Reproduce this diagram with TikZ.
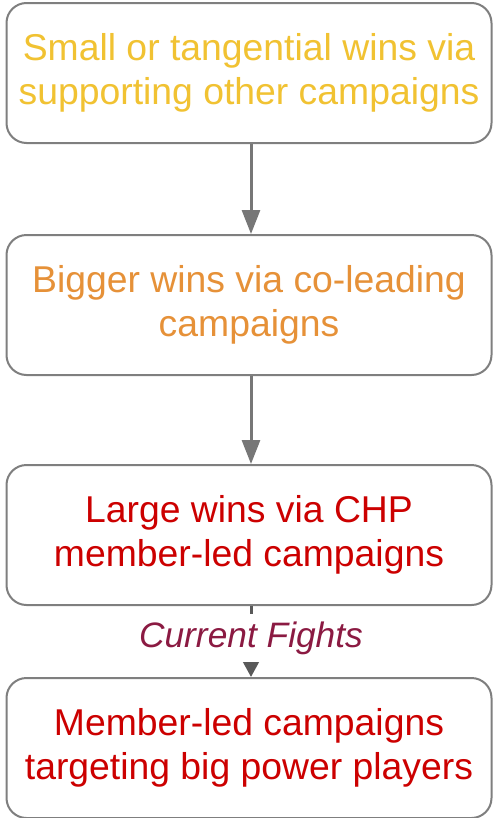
\documentclass[tikz,border=0pt]{standalone}
\usepackage{fontspec}
\setmainfont{Liberation Sans}
\usetikzlibrary{arrows.meta}
\definecolor{cyellow}{HTML}{F1C232}
\definecolor{corange}{HTML}{E69138}
\definecolor{cred}{HTML}{CC0000}
\definecolor{cmaroon}{HTML}{8B1A42}
\definecolor{boxgray}{HTML}{7F7F7F}
\definecolor{arrowgray}{HTML}{777777}
\definecolor{darkgray2}{HTML}{595959}
\begin{document}
\begin{tikzpicture}[x=0.75pt,y=-0.75pt,
  box/.style={draw=boxgray, line width=1.5pt, rounded corners=15pt, fill=white,
    minimum width=363.75pt, minimum height=105pt, align=center,
    font=\fontsize{28}{33}\selectfont, inner sep=0pt},
  conn/.style={draw=arrowgray, line width=2.25pt, -{Triangle[width=13.5pt,length=18pt]}},
  conndark/.style={draw=darkgray2, line width=2.25pt, -{Triangle[width=13.5pt,length=13pt]}},
  lbl/.style={fill=white, text=cmaroon, font=\fontsize{26.5}{30}\selectfont\itshape,
    inner sep=2pt, minimum height=36pt}]
\useasboundingbox (0,0) rectangle (493,818);
\node[box, text=cyellow] (b1) at (249,73) {Small or tangential wins via\\supporting other campaigns};
\node[box, text=corange] (b2) at (249,305) {Bigger wins via co-leading\\campaigns};
\node[box, text=cred] (b3) at (249,535) {Large wins via CHP\\member-led campaigns};
\node[box, text=cred] (b4) at (249,748) {Member-led campaigns\\targeting big power players};
\draw[conn] ([xshift=1.5pt]b1.south) -- ([xshift=1.5pt]b2.north);
\draw[conn] ([xshift=1.5pt]b2.south) -- ([xshift=1.5pt]b3.north);
\draw[conndark] ([xshift=1.5pt]b3.south) -- node[lbl, pos=0.45] (l1) {Current Fights} ([xshift=1.5pt]b4.north);
\end{tikzpicture}
\end{document}
